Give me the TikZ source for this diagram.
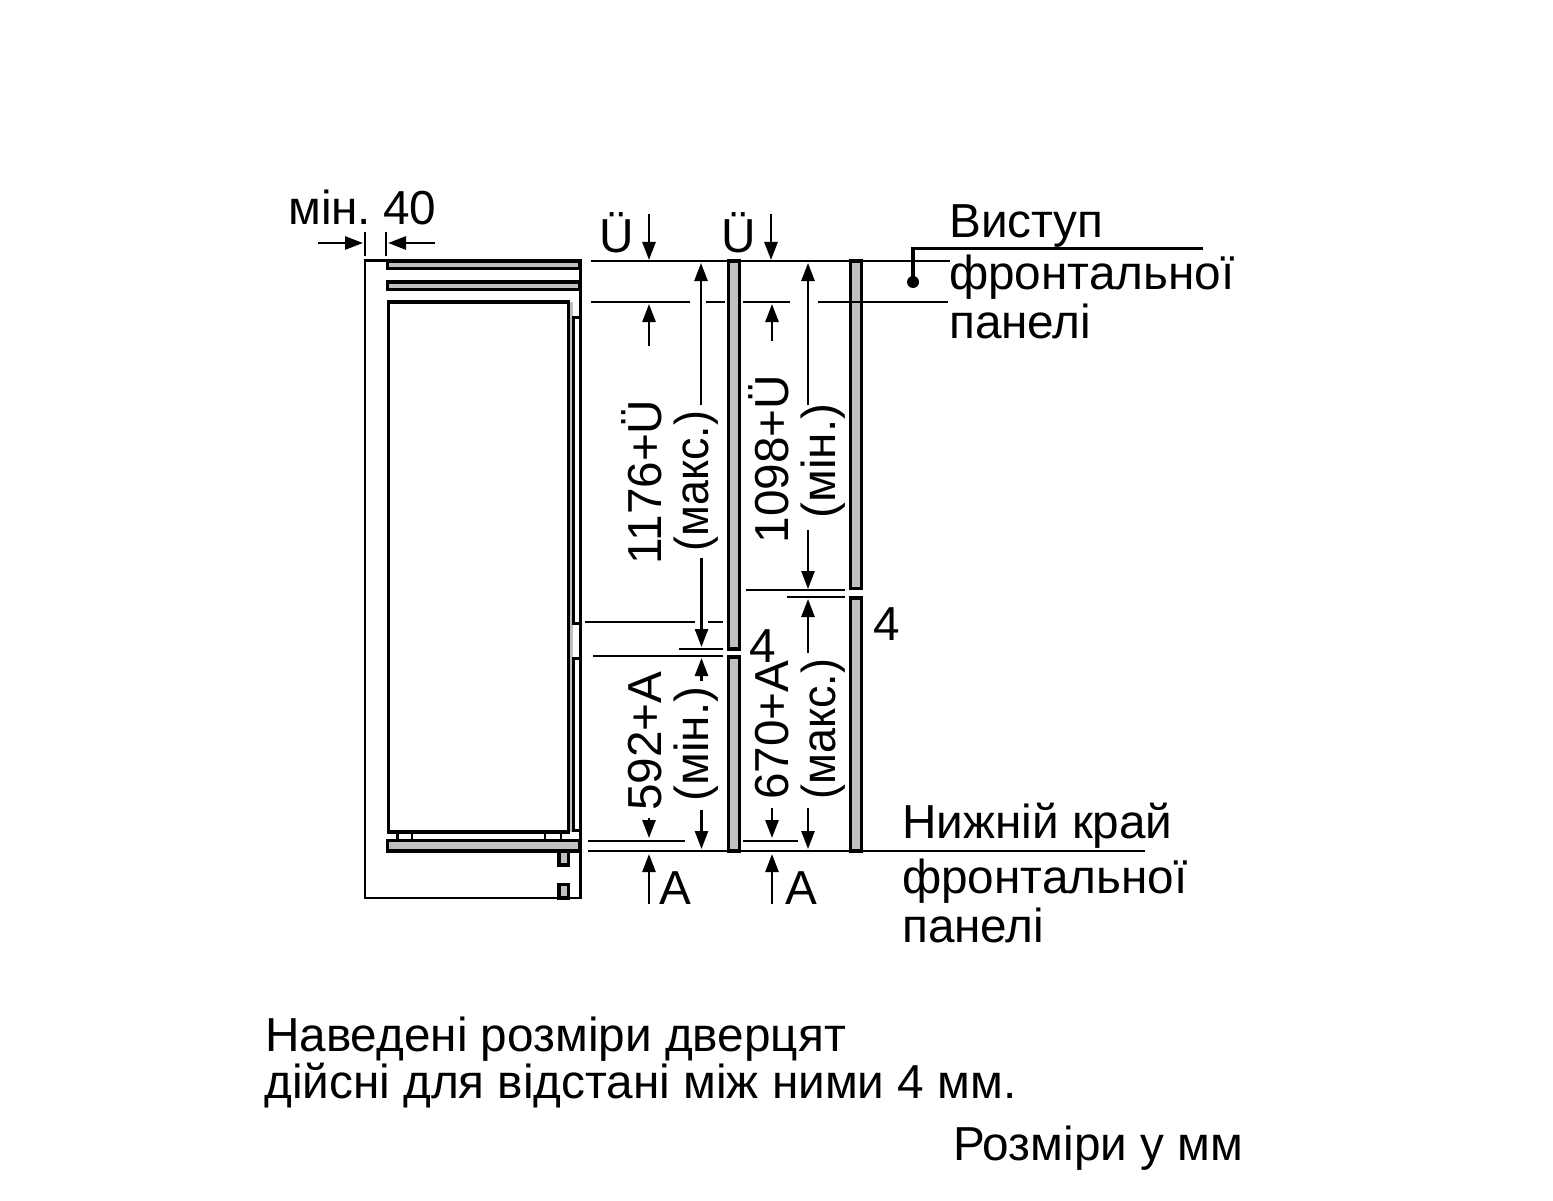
\documentclass[tikz,border=0pt]{standalone}
\usepackage{fontspec}
\usepackage{graphicx}
\setmainfont{Liberation Sans}
\usetikzlibrary{arrows.meta}
\definecolor{panelgray}{RGB}{192,192,192}
\tikzset{
  thin line/.style={line width=2.8pt,draw=black},
  outline/.style={line width=2.8pt,draw=black,line join=miter},
  panel/.style={line width=3.4pt,draw=black,fill=panelgray},
  hollow/.style={line width=3pt,draw=black,fill=white},
  dimarrow/.style={line width=2.6pt,-{Triangle[length=18pt,width=13pt]}},
  label/.style={inner sep=0pt,anchor=base west,font=\fontsize{47.7}{48}\selectfont},
  vlabel/.style={inner sep=0pt,anchor=base,rotate=90,font=\fontsize{47.7}{48}\selectfont}
}
\begin{document}
\begin{tikzpicture}[x=1pt,y=-1pt]
\useasboundingbox (0,0) rectangle (1553,1201);
% cabinet
\draw[outline] (386,260.5) -- (365,260.5) -- (365,898) -- (580.5,898) -- (580.5,260);
% appliance gray side strip
\fill[panelgray] (569,302) rectangle (573,832);
% appliance
\draw[line width=3.6pt,line join=miter] (388.5,832) -- (388.5,302) -- (568.5,302) -- (568.5,832) -- cycle;
% door fixing strips
\draw[hollow] (573.5,317) rectangle (580.5,623);
\draw[hollow] (573.5,658) rectangle (580.5,830);
% panels
\draw[panel] (387.5,261) rectangle (580,268.5);
\draw[panel] (387.5,282) rectangle (580,289.5);
\draw[panel] (387.5,840.5) rectangle (580,851);
\draw[panel] (559,851) rectangle (568.5,865);
\draw[panel] (559,884.5) rectangle (568.5,898);
% feet
\draw[thin line] (397.5,832) -- (397.5,840) (412,832) -- (412,840) (545,832) -- (545,840) (561,832) -- (561,840);
% min 40 ticks
\draw[thin line] (365,232) -- (365,256) (386,232) -- (386,256);
\draw[dimarrow] (318,243) -- (363,243);
\draw[dimarrow] (435,243) -- (388,243);
% doors
\draw[panel,line width=3.6pt] (728.5,261) rectangle (739.5,649);
\draw[panel,line width=3.6pt] (728.5,657) rectangle (739.5,851);
\draw[panel,line width=3.6pt] (850.5,261) rectangle (861.5,588.5);
\draw[panel,line width=3.6pt] (850.5,598) rectangle (861.5,851);
% horizontal dimension lines
\draw[thin line] (591,261) -- (950,261);
\draw[thin line] (591,302) -- (690,302) (706,302) -- (725,302) (743,302) -- (790,302) (818,302) -- (948,302);
\draw[thin line] (585,622) -- (695,622) (708,622) -- (723,622);
\draw[thin line] (679,649) -- (723,649);
\draw[thin line] (593,656) -- (723,656);
\draw[thin line] (746,590) -- (845,590);
\draw[thin line] (787,597) -- (845,597);
\draw[thin line] (588,841) -- (685,841) (743,841) -- (798,841);
\draw[thin line] (588,851) -- (1145,851);
% vertical arrows
\draw[dimarrow] (649,214) -- (649,260);
\draw[dimarrow] (771,214) -- (771,260);
\draw[dimarrow] (649,346) -- (649,304);
\draw[dimarrow] (772,341) -- (772,304);
\draw[dimarrow] (701,405) -- (701,263);
\draw[dimarrow] (808,405) -- (808,263);
\draw[dimarrow] (701.5,558) -- (701.5,647);
\draw[dimarrow] (808,530) -- (808,589);
\draw[dimarrow] (808,653) -- (808,599);
\draw[dimarrow] (701.5,681) -- (701.5,658);
\draw[dimarrow] (649,818) -- (649,838);
\draw[dimarrow] (701.5,810) -- (701.5,849);
\draw[dimarrow] (772,808) -- (772,838);
\draw[dimarrow] (808,808) -- (808,849);
\draw[dimarrow] (649,904) -- (649,854);
\draw[dimarrow] (772,904) -- (772,854);
% leader
\draw[line width=3.2pt,line join=miter] (913,282) -- (913,248.5) -- (1203,248.5);
\fill (913,282) circle (6);
% texts
\node[label] (t40) at (288,225) {мін.\hspace{12pt}40};
\node[label] (u1) at (599,253) {Ü};
\node[label] (u2) at (721,253) {Ü};
\node[label] (v1) at (949,237) {Виступ};
\node[label] (v2) at (949,289) {фронтальної};
\node[label] (v3) at (949,338) {панелі};
\node[label] (n1) at (902,838) {Нижній край};
\node[label] (n2) at (902,893) {фронтальної};
\node[label] (n3) at (902,942) {панелі};
\node[label] (f1) at (873,640) {4};
\node[label] (f2) at (749,662) {4};
\node[label] (a1) at (659,904) {A};
\node[label] (a2) at (785.5,904) {A};
\node[vlabel] (d1) at (661,482) {1176+Ü};
\node[vlabel] (d2) at (708.5,481) {\scalebox{0.94}[1]{(макс.)}};
\node[vlabel] (d3) at (788,459) {1098+Ü};
\node[vlabel] (d4) at (835,461) {(мін.)};
\node[vlabel] (d5) at (661,741) {592+A};
\node[vlabel] (d6) at (708.5,744) {(мін.)};
\node[vlabel] (d7) at (788,730) {670+A};
\node[vlabel] (d8) at (835,729) {\scalebox{0.94}[1]{(макс.)}};
\node[label] (b1) at (265,1051) {Наведені розміри дверцят};
\node[label] (b2) at (264,1098) {дійсні для відстані між ними 4 мм.};
\node[label] (b3) at (953,1160) {Розміри у мм};
\end{tikzpicture}
\end{document}
